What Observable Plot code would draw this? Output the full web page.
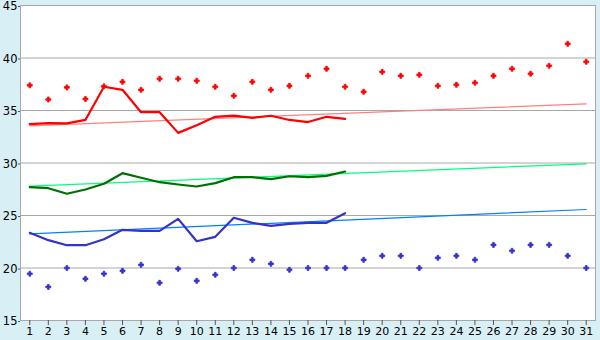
<!DOCTYPE html>
<html><head><meta charset="utf-8">
<script src="https://cdn.jsdelivr.net/npm/d3@7"></script>
<script src="https://cdn.jsdelivr.net/npm/@observablehq/plot@0.6"></script>
<style>
body{margin:0;background:#d9eff6;}
#chart svg{display:block;background:#d9eff6;overflow:visible;}
</style>
</head><body><div id="chart"></div><script>
const days = [1,2,3,4,5,6,7,8,9,10,11,12,13,14,15,16,17,18,19,20,21,22,23,24,25,26,27,28,29,30,31];
const yTicks = [15,20,25,30,35,40,45];

const maxDots = [37.4,36.05,37.2,36.1,37.3,37.73,36.97,38.02,38.02,37.83,37.26,36.4,37.73,36.97,37.35,38.3,38.97,37.26,36.78,38.68,38.3,38.4,37.35,37.45,37.64,38.3,38.97,38.5,39.26,41.35,39.64];
const minDots = [19.45,18.2,20.0,18.97,19.45,19.73,20.3,18.59,19.92,18.78,19.35,20.0,20.78,20.4,19.83,20.0,20.0,20.0,20.78,21.16,21.16,20.0,20.97,21.16,20.78,22.2,21.64,22.2,22.2,21.16,20.0];

const redLine = [33.7,33.8,33.78,34.1,37.26,36.97,34.84,34.84,32.87,33.6,34.4,34.52,34.3,34.5,34.1,33.9,34.4,34.2];
const greenLine = [27.7,27.6,27.07,27.48,28.02,29.03,28.59,28.17,27.95,27.76,28.08,28.65,28.65,28.46,28.74,28.65,28.78,29.19];
const blueLine = [23.35,22.65,22.17,22.17,22.74,23.64,23.54,23.54,24.68,22.55,22.97,24.78,24.3,24.02,24.21,24.3,24.3,25.22];

const trendDays = [1,31];
const redTrend = [33.54,35.64];
const greenTrend = [27.8,29.92];
const blueTrend = [23.25,25.57];

const pts = (xs, ys) => ys.map((v,i)=>({x:xs[i], y:v}));

const chart = Plot.plot({
  width: 600, height: 340,
  marginLeft: 20, marginRight: 5, marginTop: 5, marginBottom: 20,
  style: {fontFamily: "DejaVu Sans, Verdana, sans-serif", fontSize: "11px", color: "#000", background: "#d9eff6", overflow: "visible"},
  x: {domain: [0.5, 31.5], label: null},
  y: {domain: [15, 45], label: null},
  marks: [
    Plot.frame({fill: "white", stroke: "#a8a8a8"}),
    Plot.ruleY(yTicks, {stroke: "#a8a8a8"}),
    Plot.axisX({ticks: days, tickSize: 5, tickPadding: 2, stroke: "#555", fontSize: 11, tickFormat: d => String(d)}),
    Plot.axisY({ticks: yTicks, tickSize: 2, tickPadding: 1, stroke: "#555", fontSize: 11.5, dy: 1}),
    Plot.line(pts(trendDays, redTrend), {x:"x", y:"y", stroke:"#ff8080", strokeWidth:1.2}),
    Plot.line(pts(trendDays, greenTrend), {x:"x", y:"y", stroke:"#00ff80", strokeWidth:1.2}),
    Plot.line(pts(trendDays, blueTrend), {x:"x", y:"y", stroke:"#0080ff", strokeWidth:1.2}),
    Plot.line(pts(days, redLine), {x:"x", y:"y", stroke:"#ff0000", strokeWidth:2.2}),
    Plot.line(pts(days, greenLine), {x:"x", y:"y", stroke:"#007000", strokeWidth:2.2}),
    Plot.line(pts(days, blueLine), {x:"x", y:"y", stroke:"#3333cc", strokeWidth:2.2}),
    Plot.dot(pts(days, maxDots), {x:"x", y:"y", symbol:"cross", fill:"#ff0000", stroke:"#ff0000", strokeWidth:0.8, r:2.1}),
    Plot.dot(pts(days, minDots), {x:"x", y:"y", symbol:"cross", fill:"#3333cc", stroke:"#3333cc", strokeWidth:0.8, r:2.1})
  ]
});
document.getElementById("chart").append(chart);
</script></body></html>
